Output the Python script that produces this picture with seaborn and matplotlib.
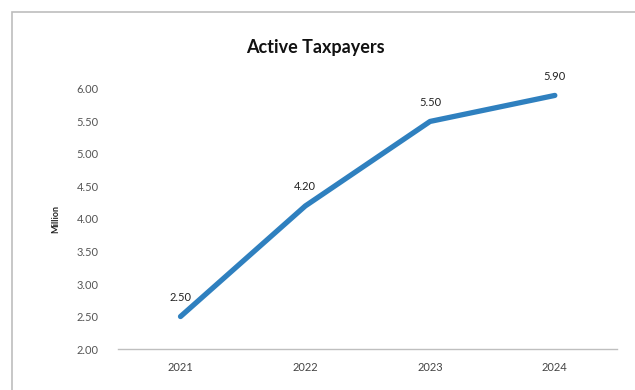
import matplotlib
matplotlib.use("Agg")
import matplotlib.pyplot as plt
import seaborn as sns
import pandas as pd
from matplotlib.patches import Rectangle

years = ["2021", "2022", "2023", "2024"]
taxpayers = [2.50, 4.20, 5.50, 5.90]
yticks = [2.00, 2.50, 3.00, 3.50, 4.00, 4.50, 5.00, 5.50, 6.00]

df = pd.DataFrame({"Year": years, "Million": taxpayers})

sns.set_style("white")
plt.rcParams["font.family"] = ["Lato", "DejaVu Sans"]

fig = plt.figure(figsize=(6.35, 3.9), dpi=100)
fig.patch.set_facecolor("white")
ax = fig.add_axes([0.186, 0.105, 0.786, 0.667])

sns.lineplot(data=df, x="Year", y="Million", ax=ax, color="#2f80bf",
             linewidth=3.8, solid_capstyle="round", solid_joinstyle="round", sort=False)

ax.set_xlim(-0.5, 3.5)
ax.set_ylim(2.0, 6.0)
ax.set_yticks(yticks)
ax.set_yticklabels([f"{v:.2f}" for v in yticks], color="#555555", fontsize=8)
ax.set_xticks(range(len(years)))
ax.set_xticklabels(years, color="#444444", fontsize=8)
ax.tick_params(axis="x", length=0, pad=9)
ax.tick_params(axis="y", length=0, pad=14)
for s in ["top", "right", "left"]:
    ax.spines[s].set_visible(False)
ax.spines["bottom"].set_color("#bfbfbf")
ax.spines["bottom"].set_linewidth(1.0)
ax.set_xlabel("")
ax.set_ylabel("Million", fontsize=6.5, fontweight="bold", color="#222222")
ax.yaxis.set_label_coords(-0.116, 0.5)

for i, v in enumerate(taxpayers):
    ax.annotate(f"{v:.2f}", (i, v), xytext=(0, 10), textcoords="offset points",
                ha="center", va="bottom", fontsize=8, color="#222222")

fig.text(0.497, 0.877, "Active Taxpayers", ha="center", va="center",
         fontsize=13, fontweight="bold", color="#111111")

# outer frame of the chart area
fig.add_artist(Rectangle((0.019, -0.01), 1.0, 0.98, transform=fig.transFigure,
                         fill=False, edgecolor="#bdbdbd", linewidth=1.2))

fig.savefig("out.png", dpi=100)
